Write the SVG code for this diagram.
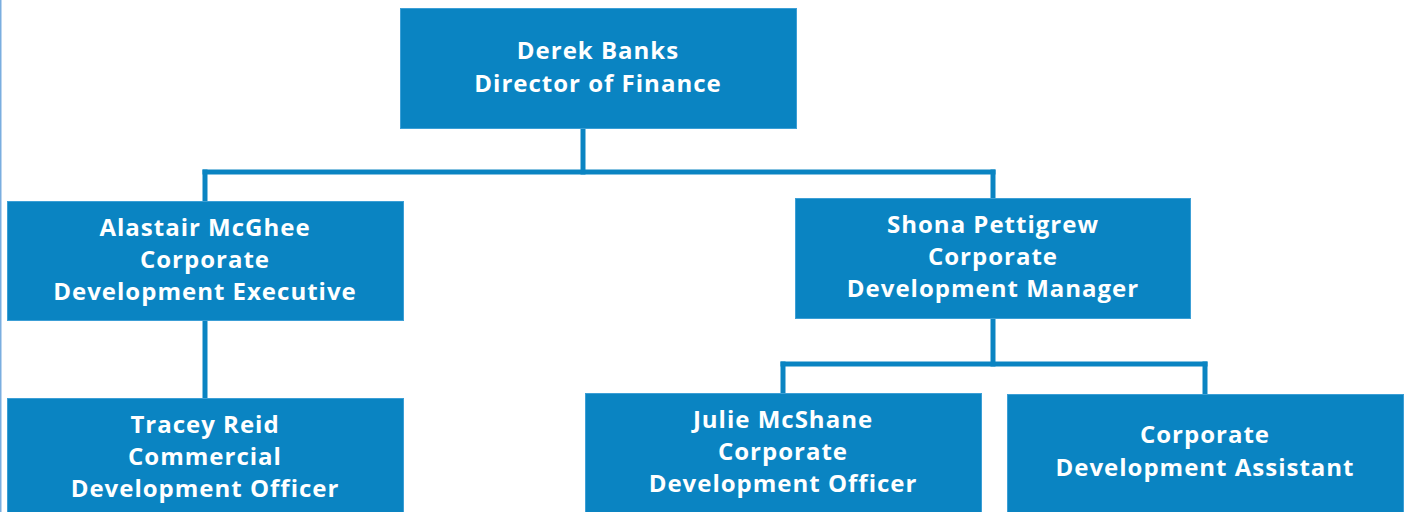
<svg xmlns="http://www.w3.org/2000/svg" width="1407" height="512" viewBox="0 0 1407 512">
<style>
.box{fill:#0a84c2;stroke:#3c9fd6;stroke-width:1}
.t{font-family:"Open Sans","Liberation Sans",sans-serif;font-weight:700;font-size:24px;letter-spacing:1px;fill:#ffffff;text-anchor:middle}
.c{fill:none;stroke:#0a84c2;stroke-width:5;stroke-linecap:square}
</style>
<rect x="0" y="0" width="1407" height="512" fill="#ffffff"/>
<rect x="0" y="0" width="1.5" height="512" fill="#7aaee0"/>
<g id="connectors">
<path class="c" d="M583,128 V172"/>
<path class="c" d="M205,172 H993"/>
<path class="c" d="M205,172 V201"/>
<path class="c" d="M993,172 V198"/>
<path class="c" d="M205,320 V398"/>
<path class="c" d="M993,318 V364"/>
<path class="c" d="M783,364 H1205"/>
<path class="c" d="M783,364 V393"/>
<path class="c" d="M1205,364 V394"/>
</g>
<g id="derek">
<rect class="box" x="400.5" y="8.5" width="396" height="120"/>
<text class="t" x="598" y="59">Derek Banks</text>
<text class="t" x="598" y="92">Director of Finance</text>
</g>
<g id="alastair">
<rect class="box" x="7.5" y="201.5" width="396" height="119"/>
<text class="t" x="205" y="236">Alastair McGhee</text>
<text class="t" x="205" y="268">Corporate</text>
<text class="t" x="205" y="300">Development Executive</text>
</g>
<g id="shona">
<rect class="box" x="795.5" y="198.5" width="395" height="120"/>
<text class="t" x="993" y="233">Shona Pettigrew</text>
<text class="t" x="993" y="265">Corporate</text>
<text class="t" x="993" y="297">Development Manager</text>
</g>
<g id="tracey">
<rect class="box" x="7.5" y="398.5" width="396" height="120"/>
<text class="t" x="205" y="433">Tracey Reid</text>
<text class="t" x="205" y="465">Commercial</text>
<text class="t" x="205" y="497">Development Officer</text>
</g>
<g id="julie">
<rect class="box" x="585.5" y="393.5" width="396" height="125"/>
<text class="t" x="783" y="428">Julie McShane</text>
<text class="t" x="783" y="460">Corporate</text>
<text class="t" x="783" y="492">Development Officer</text>
</g>
<g id="assistant">
<rect class="box" x="1007.5" y="394.5" width="396" height="125"/>
<text class="t" x="1205" y="443">Corporate</text>
<text class="t" x="1205" y="476">Development Assistant</text>
</g>
</svg>
